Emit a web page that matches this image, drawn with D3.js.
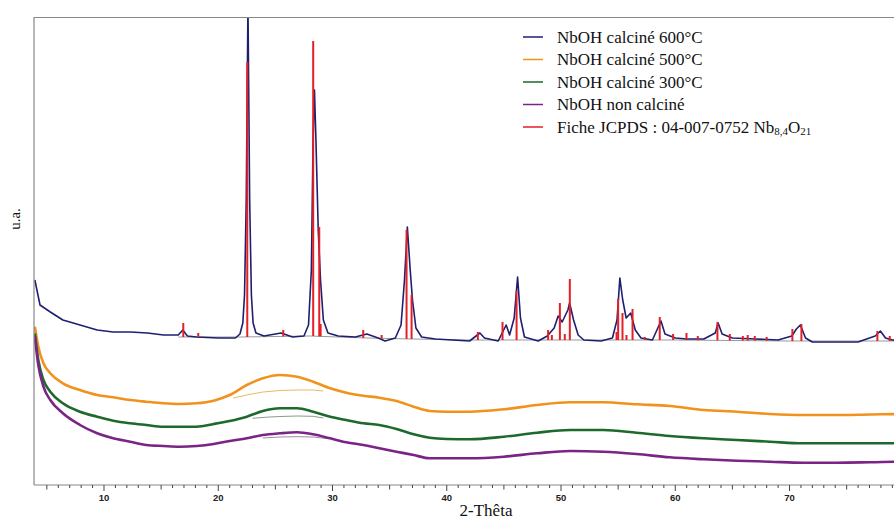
<!DOCTYPE html>
<html><head><meta charset="utf-8">
<script src="https://cdn.jsdelivr.net/npm/d3@7"></script>
<style>body{margin:0;background:#fff}svg{display:block}</style>
</head><body>
<svg id="c" width="894" height="520"></svg>
<script>
// ---------- DATA ----------
const amorphTheta = [3.95,4.25,4.7,5.3,6.4,7.9,9.4,10.8,12.3,13.7,15.2,16.6,18.1,19.6,21,22.5,23.9,25.4,26.9,28.3,29.8,31.2,32.7,34.1,35.6,37.1,38.5,40,42,45,47.9,50.8,53.7,56.6,59.5,62.5,65.4,68.3,71.2,74.1,77,80,80.5];
const calc500 = [158.3,138.3,121.7,111.7,101.7,95,90,87.7,85,83.3,81.7,81,81.7,84.3,90,100,106.7,110,108.3,103.3,96.7,92.3,89.3,87.3,84,78.3,74,73.3,73.3,75.7,80,82.7,82.7,80.7,79,75,73.3,71,70,70,70.5,71,71];
const calc300 = [151.7,125,105,93.3,81.7,73.3,68.3,64.3,61.7,60,58.3,58.3,58.3,61,64,68.3,74,76.7,76.7,73.3,68.3,65,61.7,60,56,50.7,47.3,46,45.7,48.3,52.3,55,55,52.3,49,46.7,45,43.3,41.7,41.7,41.7,41.7,41.7];
const nonCalc = [148.3,120,98.3,85,71.7,60,51.7,46.7,43.3,40,39,38.3,39,41,44,46.7,50,51.7,52.7,50.7,46.7,42.7,40,36.7,33.3,30,26.7,26.7,26.7,28.3,31.7,34,33.3,31,27.7,25.7,24.3,23.3,22.3,22.3,22.7,23.3,23.3];

const calc600Theta = [3.95,4.4,5.3,6.4,7.9,9.4,10.8,12.3,13.8,15.2,16.5,16.9,17.3,18.1,20,21.5,21.9,22.15,22.3,22.45,22.6,22.75,22.9,23.05,23.3,24,25.5,26.5,27.5,27.9,28.15,28.3,28.42,28.55,28.75,28.95,29.2,29.6,30.5,32,33.0,34,34.6,35.5,36.0,36.3,36.55,36.8,37.0,37.3,37.8,39,40.5,42,42.9,43.3,44.5,45.2,45.5,45.9,46.2,46.45,46.8,48,48.8,49.4,49.75,50.1,50.6,50.75,51.1,51.5,52,53.5,54.5,54.9,55.15,55.4,55.7,56.1,56.5,57,58,58.75,59.1,60,61,62.5,63.5,63.75,64.1,65,67,69,70.2,70.6,70.95,71.4,72,74,76,77.5,77.95,78.4,79,80,80.5];
const calc600 = [205,180,173,165,160,155,153,153,152,150,150,155,149,148,147,147,151,162,190,285,480,285,190,162,152,149,152,148,149,160,215,345,395,345,255,205,165,152,149,148,151,147,144,147,160,205,258,215,185,157,148,146,145,144,152,147,144,160,150,167,208,167,148,144,149,157,169,163,175,182,165,150,145,144,147,165,207,185,167,172,155,147,145,164,151,147,146,146,152,162,151,147,146,145,149,156,160,147,143,143,143,149,154,147,145,144,144];

const baseTheta = [16.5,22,28,33,37,42,50,60,70,80.5];
const baseVal   = [148,148,149,147,146,145,145,145,144,144];

const jcpdsPos = [16.94,18.25,22.54,25.69,28.31,28.84,28.96,32.69,34.30,36.48,36.92,42.72,44.88,46.11,48.87,49.2,49.9,50.33,50.77,54.86,55.0,55.38,55.73,56.26,57.33,58.64,59.81,60.98,61.97,63.69,64.77,65.91,66.34,66.96,68.0,70.25,71.04,77.69,78.77];
const jcpdsTop = [162,152,423,155,444,258,161,155,150,255,190,153,163,194,155,150,182,151,206,153,186,172,150,176,148,168,151,152,149,163,151,149,150,149,148,156,161,154,149];

const fit500Theta = [21.3,22.5,23.9,25.4,26.9,28.3,29.2];
const fit500 = [87,90,93,94.5,95,95,94];
const fit300Theta = [23.0,24.2,25.4,26.9,28.3,29.2];
const fit300 = [66.7,67.8,68.5,69,68.7,67];
const fitNonTheta = [23.9,25.4,26.9,28.3,29.5];
const fitNon = [47,48,48.3,48,46.5];

const majorTicks = [10,20,30,40,50,60,70,80];
const legendNames = ["NbOH calciné 600°C","NbOH calciné 500°C","NbOH calciné 300°C","NbOH non calciné"];
const legendColors = ["#1f1f70","#f0921c","#1d6a2c","#7a2485","#e41f26"];

// ---------- CHART ----------
const svg = d3.select("#c");
const x = d3.scaleLinear().domain([3.9, 80.5]).range([34.3, 909.5]);
const y = d3.scaleLinear().domain([0, 468]).range([485, 17]);

svg.append("defs").append("clipPath").attr("id","pa")
  .append("rect").attr("x",34).attr("y",17).attr("width",880).attr("height",468);

const g = svg.append("g").attr("clip-path","url(#pa)");
const line = d3.line().x(d=>x(d[0])).y(d=>y(d[1]));
const zip = (a,b)=>a.map((t,i)=>[t,b[i]]);

// fits (thin)
g.append("path").attr("d",line(zip(fit500Theta,fit500))).attr("fill","none").attr("stroke","#e8b868").attr("stroke-width",1);
g.append("path").attr("d",line(zip(fit300Theta,fit300))).attr("fill","none").attr("stroke","#8a9a8a").attr("stroke-width",1);
g.append("path").attr("d",line(zip(fitNonTheta,fitNon))).attr("fill","none").attr("stroke","#9a8aa0").attr("stroke-width",1);

const amLine = d3.line().x(d=>x(d[0])).y(d=>y(d[1])).curve(d3.curveMonotoneX);
[[calc500,legendColors[1]],[calc300,legendColors[2]],[nonCalc,legendColors[3]]].forEach(([v,c])=>{
  g.append("path").attr("d",amLine(zip(amorphTheta,v))).attr("fill","none")
   .attr("stroke",c).attr("stroke-width",2.6).attr("stroke-linejoin","round");
});

// baseline
g.append("path").attr("d",line(zip(baseTheta,baseVal))).attr("fill","none").attr("stroke","#999").attr("stroke-width",1);

// 600 curve
g.append("path").attr("d",line(zip(calc600Theta,calc600))).attr("fill","none")
  .attr("stroke",legendColors[0]).attr("stroke-width",1.6).attr("stroke-linejoin","round");

// JCPDS sticks
const baseAt = t => {
  const i = d3.bisectLeft(baseTheta, t);
  if (i<=0) return baseVal[0];
  if (i>=baseTheta.length) return baseVal[baseVal.length-1];
  const f=(t-baseTheta[i-1])/(baseTheta[i]-baseTheta[i-1]);
  return baseVal[i-1]+f*(baseVal[i]-baseVal[i-1]);
};
g.selectAll("line.st").data(zip(jcpdsPos,jcpdsTop)).join("line").attr("class","st")
  .attr("x1",d=>x(d[0])).attr("x2",d=>x(d[0]))
  .attr("y1",d=>y(baseAt(d[0]))).attr("y2",d=>y(d[1]))
  .attr("stroke",legendColors[4]).attr("stroke-width",2);

// frame
svg.append("line").attr("x1",34).attr("x2",894).attr("y1",17.5).attr("y2",17.5).attr("stroke","#888").attr("stroke-width",1.2);
svg.append("line").attr("x1",34).attr("x2",34).attr("y1",17).attr("y2",485).attr("stroke","#888").attr("stroke-width",1.2);

// x axis
const ax = svg.append("g").attr("transform","translate(0,485)");
ax.append("line").attr("x1",34).attr("x2",894).attr("stroke","#888").attr("stroke-width",1.2);
const minor = d3.range(5, 81);
ax.selectAll("line.tk").data(minor).join("line").attr("class","tk")
  .attr("x1",d=>x(d)).attr("x2",d=>x(d)).attr("y1",0)
  .attr("y2",d=> d%10===0 ? 6 : (d%5===0 ? 4.5 : 3))
  .attr("stroke","#444").attr("stroke-width",1);
ax.selectAll("text").data(majorTicks).join("text")
  .attr("x",d=>x(d)).attr("y",16).attr("text-anchor","middle")
  .attr("font-family","Liberation Sans, Arial, sans-serif").attr("font-size",9.5).attr("font-weight","bold")
  .attr("fill","#222").text(d=>d);

svg.append("text").attr("x",486).attr("y",516).attr("text-anchor","middle")
  .attr("font-family","Liberation Serif, Times New Roman, serif").attr("font-size",17).attr("fill","#111").text("2-Thêta");
svg.append("text").attr("transform","translate(20,219) rotate(-90)").attr("text-anchor","middle")
  .attr("font-family","Liberation Serif, Times New Roman, serif").attr("font-size",15).attr("fill","#111").text("u.a.");

// legend
const lg = svg.append("g").attr("font-family","Liberation Serif, Times New Roman, serif").attr("font-size",17).attr("fill","#111");
const rows = [...legendNames, "Fiche"];
rows.forEach((n,i)=>{
  const yy = 37 + i*22.5;
  lg.append("line").attr("x1",523).attr("x2",543).attr("y1",yy).attr("y2",yy).attr("stroke",legendColors[i]).attr("stroke-width",1.5);
  const t = lg.append("text").attr("x",557).attr("y",yy+5.5);
  if (i<4) t.text(n);
  else {
    t.append("tspan").text("Fiche JCPDS : 04-007-0752 Nb");
    t.append("tspan").attr("font-size",11).attr("dy",2).text("8,4");
    t.append("tspan").attr("dy",-2).text("O");
    t.append("tspan").attr("font-size",11).attr("dy",2).text("21");
  }
});
</script>
</body></html>
